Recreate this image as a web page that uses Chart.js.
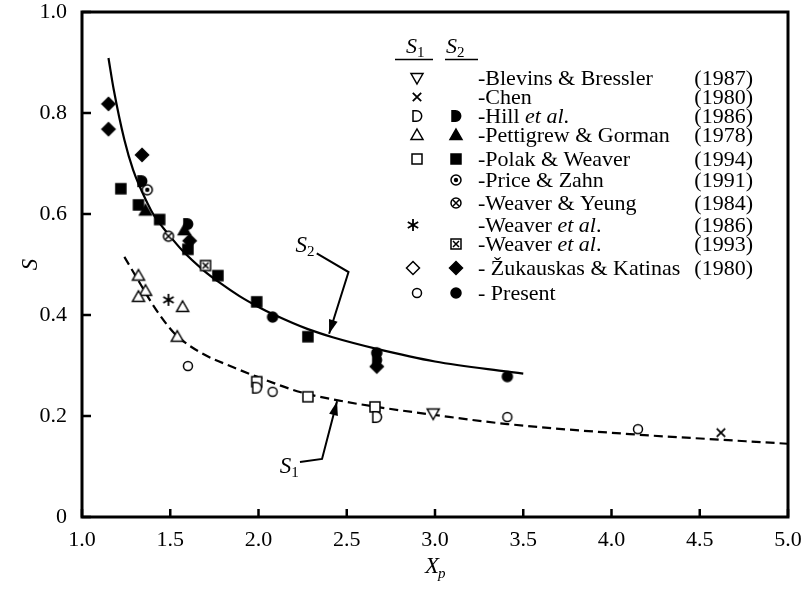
<!DOCTYPE html>
<html>
<head>
<meta charset="utf-8">
<script src="https://cdn.jsdelivr.net/npm/chart.js@4.4.1/dist/chart.umd.min.js"></script>
<style>
html, body { margin: 0; padding: 0; background: #fff; }
</style>
</head>
<body>
<canvas id="chart_s" width="802" height="591"></canvas>
<script>
// DATA  (points are [Xp, S]; open symbols = S1, filled symbols = S2)
const blevinsS1 = [[2.99, 0.205]];
const chenS1 = [[4.62, 0.167]];
const hillS1 = [[1.99, 0.256], [2.67, 0.198]];
const pettigrewS1 = [[1.32, 0.478], [1.36, 0.448], [1.32, 0.436], [1.57, 0.416], [1.54, 0.357]];
const polakS1 = [[1.99, 0.268], [2.28, 0.238], [2.66, 0.218]];
const weaver86S1 = [[1.49, 0.430]];
const presentS1 = [[1.60, 0.299], [2.08, 0.248], [3.41, 0.198], [4.15, 0.174]];

const hillS2 = [[1.34, 0.665], [1.60, 0.580], [2.67, 0.311]];
const pettigrewS2 = [[1.36, 0.607], [1.58, 0.568]];
const polakS2 = [[1.22, 0.650], [1.32, 0.618], [1.44, 0.589], [1.60, 0.530], [1.77, 0.478], [1.99, 0.426], [2.28, 0.357]];
const priceS2 = [[1.37, 0.648]];
const yeungS2 = [[1.49, 0.556]];
const weaver93S2 = [[1.70, 0.498]];
const zukS2 = [[1.15, 0.818], [1.15, 0.768], [1.34, 0.717], [1.61, 0.547], [2.67, 0.298]];
const presentS2 = [[2.08, 0.396], [2.67, 0.325], [3.41, 0.278]];

// fitted curves
const s2CurveX = [1.15, 1.18, 1.24, 1.29, 1.37, 1.41, 1.48, 1.57, 1.69, 1.78, 1.89, 2.0, 2.08, 2.28, 2.42, 2.67, 3.0, 3.41, 3.5];
const s2CurveY = [0.909, 0.846, 0.747, 0.687, 0.622, 0.596, 0.564, 0.527, 0.488, 0.464, 0.438, 0.416, 0.402, 0.372, 0.356, 0.333, 0.308, 0.288, 0.284];
const s1CurveX = [1.24, 1.33, 1.40, 1.49, 1.54, 1.67, 1.86, 1.99, 2.24, 2.45, 2.67, 3.0, 3.41, 4.15, 4.62, 5.0];
const s1CurveY = [0.515, 0.462, 0.421, 0.377, 0.358, 0.326, 0.296, 0.278, 0.247, 0.231, 0.218, 0.202, 0.184, 0.163, 0.153, 0.145];

const xTicks = [1.0, 1.5, 2.0, 2.5, 3.0, 3.5, 4.0, 4.5, 5.0];
const yTicks = [0, 0.2, 0.4, 0.6, 0.8, 1.0];

const SERIF = "'Liberation Serif', 'Times New Roman', serif";


// MARKERS
function marker(kind, filled) {
    const c = document.createElement('canvas');
    c.width = 18; c.height = 18;
    const g = c.getContext('2d');
    g.translate(9, 9);
    g.lineWidth = 1.5;
    g.strokeStyle = '#000';
    g.fillStyle = filled ? '#000' : '#fff';
    g.beginPath();
    if (kind === 'circle') {
        g.arc(0, 0, filled ? 5 : 4.5, 0, Math.PI * 2);
        g.fill(); g.stroke();
    } else if (kind === 'triangle') {
        g.moveTo(0, -6); g.lineTo(6, 4.5); g.lineTo(-6, 4.5); g.closePath();
        g.fill(); g.stroke();
    } else if (kind === 'invtriangle') {
        g.moveTo(0, 6); g.lineTo(6, -4.5); g.lineTo(-6, -4.5); g.closePath();
        g.fill(); g.stroke();
    } else if (kind === 'square') {
        g.rect(-5, -5, 10, 10);
        g.fill(); g.stroke();
    } else if (kind === 'diamond') {
        g.moveTo(0, -6.5); g.lineTo(6.5, 0); g.lineTo(0, 6.5); g.lineTo(-6.5, 0); g.closePath();
        g.fill(); g.stroke();
    } else if (kind === 'hill') {
        g.moveTo(-4, -5.2); g.lineTo(-0.5, -5.2);
        g.arc(-0.5, 0, 5.2, -Math.PI / 2, Math.PI / 2);
        g.lineTo(-4, 5.2); g.closePath();
        g.fill(); g.stroke();
    } else if (kind === 'dotcircle') {
        g.fillStyle = '#fff';
        g.arc(0, 0, 5, 0, Math.PI * 2);
        g.fill(); g.stroke();
        g.beginPath(); g.fillStyle = '#000';
        g.arc(0, 0, 2.2, 0, Math.PI * 2); g.fill();
    } else if (kind === 'xcircle') {
        g.fillStyle = '#fff';
        g.arc(0, 0, 5, 0, Math.PI * 2);
        g.fill(); g.stroke();
        g.beginPath();
        g.moveTo(-3, -3); g.lineTo(3, 3); g.moveTo(3, -3); g.lineTo(-3, 3);
        g.stroke();
    } else if (kind === 'xsquare') {
        g.fillStyle = '#fff';
        g.rect(-5, -5, 10, 10);
        g.fill(); g.stroke();
        g.beginPath();
        g.moveTo(-3, -3); g.lineTo(3, 3); g.moveTo(3, -3); g.lineTo(-3, 3);
        g.stroke();
    } else if (kind === 'asterisk') {
        g.lineWidth = 1.8;
        for (const a of [90, 30, 150]) {
            const r = a * Math.PI / 180;
            g.moveTo(Math.cos(r) * 6, -Math.sin(r) * 6);
            g.lineTo(-Math.cos(r) * 6, Math.sin(r) * 6);
        }
        g.stroke();
    } else if (kind === 'cross') {
        g.lineWidth = 1.8;
        g.moveTo(-4.2, -4.2); g.lineTo(4.2, 4.2); g.moveTo(4.2, -4.2); g.lineTo(-4.2, 4.2);
        g.stroke();
    }
    return c;
}

const mk = {
    blevins1: marker('invtriangle', false),
    chen1: marker('cross', false),
    hill1: marker('hill', false),
    hill2: marker('hill', true),
    pett1: marker('triangle', false),
    pett2: marker('triangle', true),
    polak1: marker('square', false),
    polak2: marker('square', true),
    price2: marker('dotcircle', true),
    yeung2: marker('xcircle', true),
    weaver86: marker('asterisk', false),
    weaver93: marker('xsquare', true),
    zuk1: marker('diamond', false),
    zuk2: marker('diamond', true),
    present1: marker('circle', false),
    present2: marker('circle', true)
};


// LEGEND ROWS  (text pieces: [text, italic])
const legendRows = [
    { s1: 'blevins1', s2: null, text: [['-Blevins & Bressler', false]], year: '(1987)', base: 85 },
    { s1: 'chen1', s2: null, text: [['-Chen', false]], year: '(1980)', base: 104 },
    { s1: 'hill1', s2: 'hill2', text: [['-Hill ', false], ['et al', true], ['.', false]], year: '(1986)', base: 123 },
    { s1: 'pett1', s2: 'pett2', text: [['-Pettigrew & Gorman', false]], year: '(1978)', base: 142 },
    { s1: 'polak1', s2: 'polak2', text: [['-Polak & Weaver', false]], year: '(1994)', base: 166 },
    { s1: null, s2: 'price2', text: [['-Price & Zahn', false]], year: '(1991)', base: 187 },
    { s1: null, s2: 'yeung2', text: [['-Weaver & Yeung', false]], year: '(1984)', base: 210 },
    { s1: 'weaver86', s2: null, text: [['-Weaver ', false], ['et al', true], ['.', false]], year: '(1986)', base: 232 },
    { s1: null, s2: 'weaver93', text: [['-Weaver ', false], ['et al', true], ['.', false]], year: '(1993)', base: 251 },
    { s1: 'zuk1', s2: 'zuk2', text: [['- Žukauskas & Katinas', false]], year: '(1980)', base: 275 },
    { s1: 'present1', s2: 'present2', text: [['- Present', false]], year: '', base: 300 }
];


// DATASETS
function pts(style, data) {
    return {
        data: data,
        pointStyle: style,
        pointRadius: 6,
        showLine: false,
        order: 1
    };
}
function curve(xs, ys, dash) {
    return {
        data: xs.map((x, i) => [x, ys[i]]),
        showLine: true,
        pointRadius: 0,
        borderColor: '#000',
        borderWidth: 2.2,
        borderDash: dash,
        cubicInterpolationMode: 'monotone',
        order: 2
    };
}

const datasets = [
    curve(s2CurveX, s2CurveY, []),
    curve(s1CurveX, s1CurveY, [9, 5]),
    pts(mk.blevins1, blevinsS1),
    pts(mk.chen1, chenS1),
    pts(mk.hill1, hillS1),
    pts(mk.pett1, pettigrewS1),
    pts(mk.polak1, polakS1),
    pts(mk.weaver86, weaver86S1),
    pts(mk.present1, presentS1),
    pts(mk.hill2, hillS2),
    pts(mk.pett2, pettigrewS2),
    pts(mk.polak2, polakS2),
    pts(mk.price2, priceS2),
    pts(mk.yeung2, yeungS2),
    pts(mk.weaver93, weaver93S2),
    pts(mk.zuk2, zukS2),
    pts(mk.present2, presentS2)
];


// DRAWING HELPERS
function arrowPath(ctx, chart, path) {
    const sx = chart.scales.x, sy = chart.scales.y;
    const p = path.map(q => [sx.getPixelForValue(q[0]), sy.getPixelForValue(q[1])]);
    ctx.beginPath();
    ctx.moveTo(p[0][0], p[0][1]);
    for (let i = 1; i < p.length; i++) ctx.lineTo(p[i][0], p[i][1]);
    ctx.lineWidth = 2;
    ctx.stroke();
    const a = p[p.length - 2], b = p[p.length - 1];
    const ang = Math.atan2(b[1] - a[1], b[0] - a[0]);
    ctx.save();
    ctx.translate(b[0], b[1]);
    ctx.rotate(ang);
    ctx.beginPath();
    ctx.moveTo(0, 0); ctx.lineTo(-14, -4.5); ctx.lineTo(-14, 4.5); ctx.closePath();
    ctx.fill();
    ctx.restore();
}

function sLabel(ctx, x, y, sub, size) {
    ctx.textAlign = 'left';
    ctx.textBaseline = 'alphabetic';
    ctx.font = 'italic ' + size + 'px ' + SERIF;
    ctx.fillText('S', x, y);
    const w = ctx.measureText('S').width;
    ctx.font = Math.round(size * 0.66) + 'px ' + SERIF;
    ctx.fillText(sub, x + w, y + 4);
}

// annotation arrows, in data units
const s2Arrow = [[2.33, 0.522], [2.51, 0.485], [2.40, 0.363]];
const s1Arrow = [[2.235, 0.109], [2.36, 0.115], [2.445, 0.229]];
const s2LabelAt = [2.21, 0.524];
const s1LabelAt = [2.12, 0.088];

const decorations = {
    id: 'decorations',
    afterDraw(chart) {
        const ctx = chart.ctx;
        const area = chart.chartArea;
        const sx = chart.scales.x, sy = chart.scales.y;
        ctx.save();
        ctx.strokeStyle = '#000';
        ctx.fillStyle = '#000';

        // frame
        ctx.lineWidth = 3;
        ctx.strokeRect(area.left, area.top, area.right - area.left, area.bottom - area.top);

        // inward ticks
        ctx.lineWidth = 2.5;
        ctx.beginPath();
        for (const t of xTicks) {
            const px = sx.getPixelForValue(t);
            ctx.moveTo(px, area.bottom); ctx.lineTo(px, area.bottom - 8);
        }
        for (const t of yTicks) {
            const py = sy.getPixelForValue(t);
            ctx.moveTo(area.left, py); ctx.lineTo(area.left + 9, py);
        }
        ctx.stroke();

        // axis titles
        ctx.font = 'italic 23px ' + SERIF;
        ctx.textAlign = 'left';
        ctx.textBaseline = 'alphabetic';
        const xw = ctx.measureText('X').width;
        const xc = (area.left + area.right) / 2;
        ctx.fillText('X', xc - xw / 2 - 3, 573);
        ctx.font = 'italic 15px ' + SERIF;
        ctx.fillText('p', xc + xw / 2 - 4, 578);

        ctx.save();
        ctx.translate(37, (area.top + area.bottom) / 2);
        ctx.rotate(-Math.PI / 2);
        ctx.font = 'italic 23px ' + SERIF;
        ctx.textAlign = 'center';
        ctx.fillText('S', 0, 0);
        ctx.restore();

        // curve labels with arrows
        arrowPath(ctx, chart, s2Arrow);
        arrowPath(ctx, chart, s1Arrow);
        sLabel(ctx, sx.getPixelForValue(s2LabelAt[0]), sy.getPixelForValue(s2LabelAt[1]), '2', 23);
        sLabel(ctx, sx.getPixelForValue(s1LabelAt[0]), sy.getPixelForValue(s1LabelAt[1]), '1', 23);

        // legend header
        sLabel(ctx, 406, 53, '1', 22);
        sLabel(ctx, 446, 53, '2', 22);
        ctx.lineWidth = 1.6;
        ctx.beginPath();
        ctx.moveTo(395, 59.5); ctx.lineTo(433, 59.5);
        ctx.moveTo(445, 59.5); ctx.lineTo(478, 59.5);
        ctx.stroke();

        // legend rows
        for (const row of legendRows) {
            const cy = row.base - 7;
            const s1x = (row.s1 === 'weaver86' || row.s1 === 'zuk1') ? 413 : 417;
            if (row.s1) ctx.drawImage(mk[row.s1], s1x - 9, cy - 9);
            if (row.s2) ctx.drawImage(mk[row.s2], 456 - 9, cy - 9);
            let x = 478;
            ctx.textAlign = 'left';
            for (const piece of row.text) {
                ctx.font = (piece[1] ? 'italic ' : '') + '22px ' + SERIF;
                ctx.fillText(piece[0], x, row.base);
                x += ctx.measureText(piece[0]).width;
            }
            ctx.font = '22px ' + SERIF;
            ctx.textAlign = 'right';
            ctx.fillText(row.year, 753, row.base);
        }
        ctx.restore();
    }
};


// CHART
const ctx_s = document.getElementById('chart_s');

const chart_s = new Chart(ctx_s, {
type: 'scatter',
data: { datasets: datasets },
options: {
  responsive: false,
  animation: false,
  layout: { padding: { top: 12, right: 14, left: 0, bottom: 0 } },
  plugins: {
    legend: { display: false },
    tooltip: { enabled: false }
  },
  scales: {
    x: {
      type: 'linear',
      min: 1,
      max: 5,
      afterBuildTicks: function(scale) {
        scale.ticks = xTicks.map(v => ({ value: v }));
      },
      ticks: {
        callback: v => v.toFixed(1),
        color: '#000',
        font: { family: SERIF, size: 22 },
        padding: 10,
        maxRotation: 0,
        autoSkip: false
      },
      grid: { display: false, drawTicks: false },
      border: { display: false },
      afterFit: function(scale) {
        scale.height = 74;
        scale.paddingLeft = 0;
        scale.paddingRight = 0;
      }
    },
    y: {
      min: 0,
      max: 1,
      afterBuildTicks: function(scale) {
        scale.ticks = yTicks.map(v => ({ value: v }));
      },
      ticks: {
        callback: v => (v === 0 ? '0' : v.toFixed(1)),
        color: '#000',
        font: { family: SERIF, size: 22 },
        padding: 15
      },
      grid: { display: false, drawTicks: false },
      border: { display: false },
      afterFit: function(scale) {
        scale.width = 82;
        scale.paddingTop = 0;
        scale.paddingBottom = 0;
      }
    }
  }
},
plugins: [decorations]
});
</script>
</body>
</html>
